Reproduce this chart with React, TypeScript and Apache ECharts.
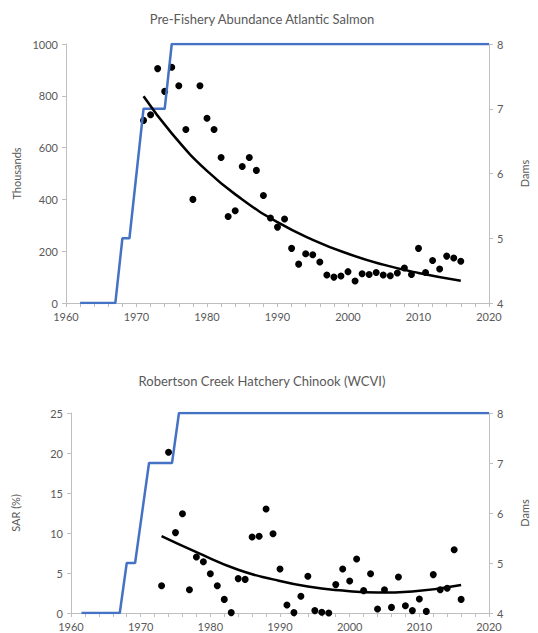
import React, { useEffect, useRef } from "react";
import * as echarts from "echarts";

// ---------- Top chart: Pre-Fishery Abundance Atlantic Salmon ----------
const topYears = [1971, 1972, 1973, 1974, 1975, 1976, 1977, 1978, 1979, 1980, 1981, 1982, 1983, 1984, 1985, 1986, 1987, 1988, 1989, 1990, 1991, 1992, 1993, 1994, 1995, 1996, 1997, 1998, 1999, 2000, 2001, 2002, 2003, 2004, 2005, 2006, 2007, 2008, 2009, 2010, 2011, 2012, 2013, 2014, 2015, 2016];
const topAbundance = [705, 727, 905, 817, 910, 839, 670, 400, 839, 713, 670, 562, 334, 356, 527, 562, 512, 415, 328, 293, 324, 211, 150, 190, 186, 158, 108, 100, 104, 121, 85, 113, 110, 118, 108, 105, 116, 135, 110, 211, 118, 164, 131, 181, 174, 161];
const topTrendYears = [1971, 1975, 1980, 1985, 1990, 1995, 2000, 2005, 2010, 2016];
const topTrendValues = [798, 655, 510, 400, 312, 244, 190, 148, 116, 86];
const topDamYears = [1962, 1967, 1968, 1969, 1971, 1974, 1975, 2020];
const topDamValues = [4, 4, 5, 5, 7, 7, 8, 8];

// ---------- Bottom chart: Robertson Creek Hatchery Chinook (WCVI) ----------
const botYears = [1973, 1974, 1975, 1976, 1977, 1978, 1979, 1980, 1981, 1982, 1983, 1984, 1985, 1986, 1987, 1988, 1989, 1990, 1991, 1992, 1993, 1994, 1995, 1996, 1997, 1998, 1999, 2000, 2001, 2002, 2003, 2004, 2005, 2006, 2007, 2008, 2009, 2010, 2011, 2012, 2013, 2014, 2015, 2016];
const botSAR = [3.4, 20.1, 10.05, 12.4, 2.9, 7.0, 6.4, 4.9, 3.4, 1.7, 0.05, 4.3, 4.2, 9.5, 9.6, 13.0, 9.9, 5.5, 1.0, 0.05, 2.1, 4.6, 0.3, 0.1, 0.0, 3.55, 5.5, 4.0, 6.75, 2.8, 4.9, 0.5, 2.9, 0.7, 4.5, 0.9, 0.3, 1.75, 0.2, 4.8, 2.9, 3.1, 7.9, 1.7];
const botTrendYears = [1973, 1978, 1984, 1989, 1994, 1999, 2004, 2009, 2016];
const botTrendValues = [9.6, 7.6, 5.4, 4.2, 3.3, 2.8, 2.55, 2.7, 3.5];
const botDamYears = [1961.5, 1967, 1968, 1969.2, 1971.2, 1974.5, 1975.5, 2020];
const botDamValues = [4, 4, 5, 5, 7, 7, 8, 8];

const xTicks = { min: 1960, max: 2020, interval: 10 };

const FONT = "Lato";
const GREY = "#595959";
const AXIS = "#BFBFBF";
const BLUE = "#4472C4";

const zip = (a: number[], b: number[]) => a.map((v, i) => [v, b[i]]);
const plain = (v: number) => String(v);

function xAxis(gridIndex: number) {
  return {
    type: "value",
    gridIndex,
    min: xTicks.min,
    max: xTicks.max,
    interval: xTicks.interval,
    axisLine: { show: true, onZero: false, lineStyle: { color: AXIS, width: 1 } },
    axisTick: { show: true, length: 4, lineStyle: { color: AXIS } },
    minorTick: { show: true, splitNumber: 5, length: 4, lineStyle: { color: AXIS } },
    splitLine: { show: false },
    axisLabel: { color: GREY, fontSize: 11, fontFamily: FONT, margin: 8, formatter: plain },
  };
}

function yAxis(gridIndex: number, pos: string, min: number, max: number, interval: number, name: string, gap: number) {
  return {
    type: "value",
    gridIndex,
    position: pos,
    min,
    max,
    interval,
    name,
    nameLocation: "middle",
    nameRotate: 90,
    nameGap: gap,
    nameTextStyle: { color: GREY, fontSize: 11, fontFamily: FONT },
    axisLine: { show: true, lineStyle: { color: AXIS, width: 1 } },
    axisTick: { show: true, length: 4, lineStyle: { color: AXIS } },
    splitLine: { show: false },
    axisLabel: { color: GREY, fontSize: 11, fontFamily: FONT, margin: 8, formatter: plain },
  };
}

export default function App() {
  const ref = useRef<HTMLDivElement>(null);
  useEffect(() => {
    if (!ref.current) return;
    const chart = echarts.init(ref.current, null, { renderer: "svg" });
    chart.setOption({
      animation: false,
      backgroundColor: "#ffffff",
      graphic: [
        {
          type: "text",
          x: 262,
          y: 12,
          style: { text: "Pre-Fishery Abundance Atlantic Salmon", fill: GREY, fontSize: 13, fontFamily: FONT, textAlign: "center" },
        },
        {
          type: "text",
          x: 262,
          y: 374,
          style: { text: "Robertson Creek Hatchery Chinook (WCVI)", fill: GREY, fontSize: 13, fontFamily: FONT, textAlign: "center" },
        },
      ],
      grid: [
        { left: 66, right: 46, top: 44, height: 259 },
        { left: 71, right: 40, top: 413, height: 200 },
      ],
      xAxis: [xAxis(0), xAxis(1)],
      yAxis: [
        yAxis(0, "left", 0, 1000, 200, "Thousands", 44),
        yAxis(0, "right", 4, 8, 1, "Dams", 30),
        yAxis(1, "left", 0, 25, 5, "SAR (%)", 50),
        yAxis(1, "right", 4, 8, 1, "Dams", 30),
      ],
      series: [
        {
          type: "line",
          xAxisIndex: 0,
          yAxisIndex: 1,
          data: zip(topDamYears, topDamValues),
          showSymbol: false,
          lineStyle: { color: BLUE, width: 2.5 },
        },
        {
          type: "scatter",
          xAxisIndex: 0,
          yAxisIndex: 0,
          data: zip(topYears, topAbundance),
          symbolSize: 7,
          itemStyle: { color: "#000000", opacity: 1 },
        },
        {
          type: "line",
          xAxisIndex: 0,
          yAxisIndex: 0,
          data: zip(topTrendYears, topTrendValues),
          smooth: true,
          showSymbol: false,
          lineStyle: { color: "#000000", width: 2.5 },
        },
        {
          type: "line",
          xAxisIndex: 1,
          yAxisIndex: 3,
          data: zip(botDamYears, botDamValues),
          showSymbol: false,
          lineStyle: { color: BLUE, width: 2.5 },
        },
        {
          type: "scatter",
          xAxisIndex: 1,
          yAxisIndex: 2,
          data: zip(botYears, botSAR),
          symbolSize: 7,
          itemStyle: { color: "#000000", opacity: 1 },
        },
        {
          type: "line",
          xAxisIndex: 1,
          yAxisIndex: 2,
          data: zip(botTrendYears, botTrendValues),
          smooth: true,
          showSymbol: false,
          lineStyle: { color: "#000000", width: 2.5 },
        },
      ],
    });
    return () => chart.dispose();
  }, []);
  return (
    <div
      ref={ref}
      style={{ position: "fixed", left: 0, top: 0, width: 538, height: 633, background: "#fff" }}
    />
  );
}
